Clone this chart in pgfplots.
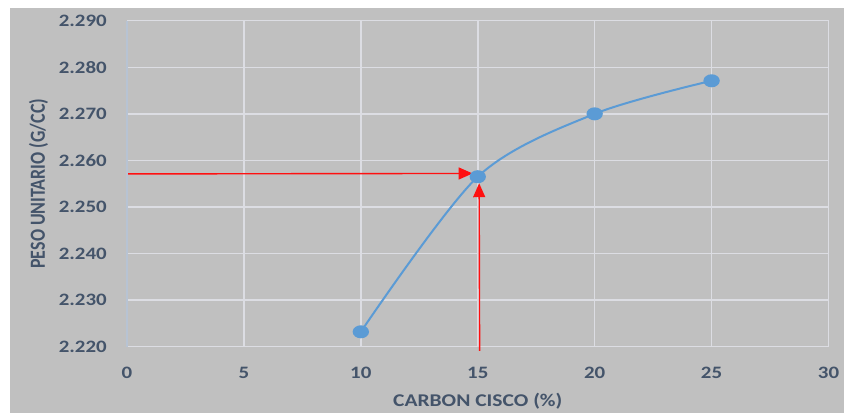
\documentclass[border=0pt]{standalone}
\usepackage{fontspec}
\setmainfont{Carlito}[FakeStretch=1.2]
\newfontfamily\plainfont{Carlito}
\usepackage{pgfplots}
\pgfplotsset{compat=1.18}
\usetikzlibrary{arrows.meta}
\definecolor{bg}{HTML}{C0C0C0}
\definecolor{gridc}{HTML}{DCDDE3}
\definecolor{axc}{HTML}{B7C3D3}
\definecolor{txt}{HTML}{44546A}
\definecolor{serie}{HTML}{5B9BD5}
\definecolor{arr}{HTML}{FF1010}
\begin{document}
\begin{tikzpicture}
\fill[white] (0,0) rectangle (844bp,413bp);
\fill[bg] (10bp,0) rectangle (844bp,405bp);
\useasboundingbox (0,0) rectangle (844bp,413bp);
\begin{axis}[
  at={(127bp,66.3bp)}, anchor=south west,
  scale only axis, width=701.5bp, height=326bp,
  xmin=0, xmax=30, ymin=2.22, ymax=2.29,
  xtick={0,5,10,15,20,25,30},
  ytick={2.22,2.23,2.24,2.25,2.26,2.27,2.28,2.29},
  clip=false,
  axis line style={draw=none},
  major tick length=0pt,
  grid=major,
  grid style={gridc, line width=1.5bp},
  /pgf/number format/assume math mode=true,
  yticklabel style={/pgf/number format/fixed, /pgf/number format/fixed zerofill, /pgf/number format/precision=3, /pgf/number format/1000 sep={}, /pgf/number format/dec sep={.}},
  ticklabel style={font=\fontsize{17.5}{20}\selectfont\bfseries, text=txt, inner sep=0pt},
  yticklabel style={anchor=east, xshift=-20bp},
  xticklabel style={anchor=north, yshift=-20bp},
  xlabel={CARBON CISCO (\%)},
  ylabel={\scalebox{1}[1.2]{\plainfont\fontsize{18}{20}\selectfont\bfseries PESO UNITARIO (G/CC)}},
  xlabel style={font=\fontsize{18}{20}\selectfont\bfseries, text=txt, inner sep=0pt, at={(axis description cs:0.5,0)}, anchor=north, yshift=-46bp},
  ylabel style={text=txt, inner sep=0pt, at={(axis description cs:-0.1261,0.5)}, anchor=center},
  after end axis/.code={\draw[axc, line width=1.2bp] (rel axis cs:0,0) -- (rel axis cs:0,1);},
]
\addplot[arr, line width=1.4bp, -{Triangle[length=14bp,width=12bp]}] coordinates {(0,2.2571) (14.78,2.2572)};
\addplot[arr, line width=1.4bp, -{Triangle[length=14bp,width=12bp]}] coordinates {(15.08,2.2191) (15.06,2.2551)};
\addplot[serie, line width=2bp, smooth, mark=*, mark size=5.5bp, mark options={xscale=1.3, fill=serie, draw=serie}] coordinates {
(10,2.2232) (15,2.2565) (20,2.2700) (25,2.2771)};
\end{axis}
\end{tikzpicture}
\end{document}
